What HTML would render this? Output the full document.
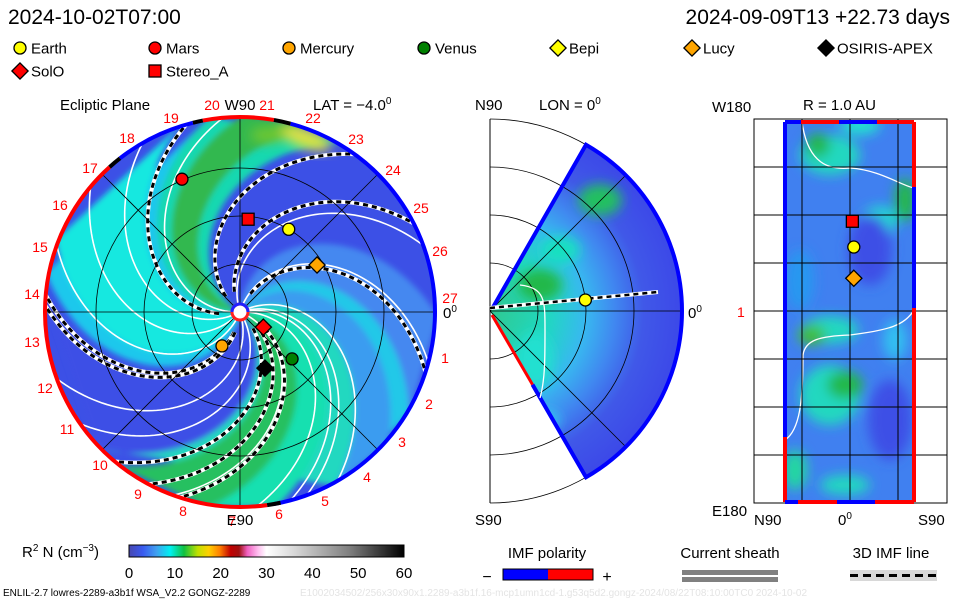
<!DOCTYPE html>
<html><head><meta charset="utf-8">
<style>
html,body{margin:0;padding:0;background:#fff;}
svg{display:block;font-family:"Liberation Sans",sans-serif;}
</style></head>
<body>
<svg id="root" width="960" height="600" viewBox="0 0 960 600" xmlns="http://www.w3.org/2000/svg">
<defs>
  <clipPath id="diskClip"><circle cx="240" cy="312" r="195"/></clipPath>
  <clipPath id="wedgeClip"><path d="M490,311 L586,145 A192,192 0 0 1 586,477 Z"/></clipPath>
  <clipPath id="rectClip"><rect x="785" y="122" width="129" height="380"/></clipPath>
  <filter id="blur6"><feGaussianBlur stdDeviation="6"/></filter>
  <filter id="blur3"><feGaussianBlur stdDeviation="3"/></filter>
  <radialGradient id="wedgeGrad" cx="490" cy="311" r="192" gradientUnits="userSpaceOnUse">
    <stop offset="0" stop-color="#30c890"/>
    <stop offset="0.3" stop-color="#20d8c0"/>
    <stop offset="0.5" stop-color="#38b8f0"/>
    <stop offset="0.65" stop-color="#4088f0"/>
    <stop offset="0.8" stop-color="#4058e8"/>
    <stop offset="1" stop-color="#3c48e8"/>
  </radialGradient>
  <linearGradient id="cbar" x1="0" x2="1" y1="0" y2="0">
    <stop offset="0" stop-color="#4848b0"/>
    <stop offset="0.05" stop-color="#3a5af0"/>
    <stop offset="0.1" stop-color="#40a0f0"/>
    <stop offset="0.15" stop-color="#00f0f0"/>
    <stop offset="0.2" stop-color="#10c040"/>
    <stop offset="0.25" stop-color="#c0e000"/>
    <stop offset="0.29" stop-color="#ffd000"/>
    <stop offset="0.33" stop-color="#ff8000"/>
    <stop offset="0.37" stop-color="#c00000"/>
    <stop offset="0.4" stop-color="#a01010"/>
    <stop offset="0.43" stop-color="#f060c0"/>
    <stop offset="0.47" stop-color="#ffc0f0"/>
    <stop offset="0.5" stop-color="#ffffff"/>
    <stop offset="0.6" stop-color="#d8d8d8"/>
    <stop offset="0.8" stop-color="#808080"/>
    <stop offset="1" stop-color="#000000"/>
  </linearGradient>
</defs>

<text x="8" y="24" font-size="21">2024-10-02T07:00</text>
<text x="950" y="24" font-size="21" text-anchor="end">2024-09-09T13 +22.73 days</text>

<g id="legend" font-size="15"></g>

<g id="ecliptic"></g>
<g id="meridian"></g>
<g id="rmap"></g>

<g>
  <text x="22" y="557" font-size="15">R<tspan font-size="10" dy="-6">2</tspan><tspan dy="6"> N (cm</tspan><tspan font-size="10" dy="-6">−3</tspan><tspan dy="6">)</tspan></text>
  <rect x="129" y="545" width="275" height="12" fill="url(#cbar)" stroke="#000" stroke-width="1"/>
  <g id="cbticks" font-size="15" text-anchor="middle"></g>
</g>

<g>
  <text x="547" y="558" font-size="15" text-anchor="middle">IMF polarity</text>
  <text x="487" y="582" font-size="16" text-anchor="middle">−</text>
  <rect x="503" y="569" width="45" height="11" fill="#0000ff"/>
  <rect x="548" y="569" width="45" height="11" fill="#ff0000"/>
  <rect x="503" y="569" width="90" height="11" fill="none" stroke="#000" stroke-width="1"/>
  <text x="607" y="582" font-size="16" text-anchor="middle">+</text>
</g>
<g>
  <text x="730" y="558" font-size="15" text-anchor="middle">Current sheath</text>
  <rect x="682" y="570" width="96" height="5" fill="#808080"/>
  <rect x="682" y="577" width="96" height="5" fill="#808080"/>
</g>
<g>
  <text x="891" y="558" font-size="15" text-anchor="middle">3D IMF line</text>
  <rect x="850" y="570" width="87" height="11" fill="#d8d8d8"/>
  <line x1="850" y1="575.5" x2="937" y2="575.5" stroke="#000" stroke-width="3" stroke-dasharray="8,5"/>
</g>
<text x="3" y="596" font-size="10">ENLIL-2.7 lowres-2289-a3b1f WSA_V2.2 GONGZ-2289</text>
<text x="300" y="596" font-size="10" fill="#e4e4e4">E1002034502/256x30x90x1.2289-a3b1f.16-mcp1umn1cd-1.g53q5d2.gongz-2024/08/22T08:10:00TC0    2024-10-02</text>

<script>
// ---------- data ----------
const legendNames = ["Earth","Mars","Mercury","Venus","Bepi","Lucy","OSIRIS-APEX","SolO","Stereo_A"];
const legendShapes = ["circle","circle","circle","circle","diamond","diamond","diamond","diamond","square"];
const legendColors = ["#ffff00","#ff0000","#ffa500","#008000","#ffff00","#ffa500","#000000","#ff0000","#ff0000"];
const eclNames = ["Earth","Mars","Mercury","Venus","Lucy","OSIRIS-APEX","SolO","Stereo_A"];
const eclR = [1.0, 1.51, 0.40, 0.73, 0.94, 0.64, 0.29, 0.97];
const eclLon = [59.5, 113.6, 242, 318, 31.4, 294, 327, 85];
const merNames = ["Earth"];
const merR = [1.0];
const merLat = [6.6];
const mapNames = ["Stereo_A","Earth","Lucy"];
const mapLat = [-4, -6, -6];
const mapLon = [85, 60.6, 31];
const cbTicks = [0,10,20,30,40,50,60];

const NS = "http://www.w3.org/2000/svg";
function el(tag, attrs, parent){const e=document.createElementNS(NS,tag);for(const k in attrs)e.setAttribute(k,attrs[k]);if(parent)parent.appendChild(e);return e;}
function supText(parent,x,y,main,sup,size){
  const t=el("text",{x:x,y:y,"font-size":size||15},parent);
  t.appendChild(document.createTextNode(main));
  const s=el("tspan",{"font-size":10,dy:-6},t); s.textContent=sup;
  return t;
}
function idx(n){return legendNames.indexOf(n);}
function marker(parent,name,x,y,s){
  const i=idx(name), sh=legendShapes[i], c=legendColors[i];
  let m;
  if(sh==="circle") m=el("circle",{cx:x,cy:y,r:s,fill:c,stroke:"#000","stroke-width":1.3},parent);
  else if(sh==="square") m=el("rect",{x:x-s,y:y-s,width:2*s,height:2*s,fill:c,stroke:"#000","stroke-width":1.3},parent);
  else m=el("polygon",{points:`${x},${y-s*1.35} ${x+s*1.35},${y} ${x},${y+s*1.35} ${x-s*1.35},${y}`,fill:c,stroke:"#000","stroke-width":1.3},parent);
  
  
  return m;
}

// ---------- legend ----------
const lg=document.getElementById("legend");
const legX=[20,155,289,424,558,692,826,20,155];
const legY=[48,48,48,48,48,48,48,71,71];
legendNames.forEach((n,i)=>{
  const g=el("g",{},lg);
  
  
  marker(g,n,legX[i],legY[i],6);
  const t=el("text",{x:legX[i]+11,y:legY[i]+5.5},g); t.textContent=n;
});

// ---------- ecliptic panel ----------
const E=document.getElementById("ecliptic");
const CX=240, CY=312, R=195, AU=96, K=0.45;
function ex(r,a){return CX+r*Math.cos(a*Math.PI/180);}
function ey(r,a){return CY-r*Math.sin(a*Math.PI/180);}
function spiralPts(rim){const a0=rim+K*R;const p=[];for(let r=6;r<=R+5;r+=3){const a=a0-K*r;p.push([ex(r,a),ey(r,a)]);}return p;}
const bg=el("g",{"clip-path":"url(#diskClip)"},E);
el("circle",{cx:CX,cy:CY,r:R,fill:"#3c50e6"},bg);
const bands=[[100,170,"#1ec8ec"],[108,160,"#18e8e0"],[60,100,"#18d8b0"],[70,90,"#30b850"],
 [175,225,"#3c50e6"],[225,300,"#20d8c0"],[232,262,"#28c060"],[262,282,"#18e0b0"],[300,330,"#20c8e8"],[330,360,"#4488f0"],[-60,-40,"#3a9cf0"]];
const bandG=el("g",{filter:"url(#blur3)"},bg);
bands.forEach(b=>{
  const p1=spiralPts(b[0]), p2=spiralPts(b[1]).reverse();
  const pts=p1.concat(p2).map(p=>p[0].toFixed(1)+","+p[1].toFixed(1)).join(" ");
  const pg=el("polygon",{points:pts,fill:b[2]},bandG);
  
  
});
const yb=el("g",{filter:"url(#blur6)"},bg);
el("ellipse",{cx:305,cy:138,rx:28,ry:10,fill:"#e0e040",transform:"rotate(20 305 138)"},yb);
el("ellipse",{cx:268,cy:135,rx:18,ry:8,fill:"#70c830"},yb);
const whiteRims=[95,120,140,160,200,215,250,275,290,20,345,-75,-60];
whiteRims.forEach(w=>{
  const p=spiralPts(w);
  const pl=el("polyline",{points:p.map(q=>q.join(",")).join(" "),fill:"none",stroke:"#fff","stroke-width":1.6},bg);
  
  
});
const dashRims=[54,27,-18,175,178,230,242,252,106];
dashRims.forEach(w=>{
  const p=spiralPts(w).filter((q,i)=>i>4);
  const s=p.map(q=>q.join(",")).join(" ");
  el("polyline",{points:s,fill:"none",stroke:"#fff","stroke-width":4},bg);
  const pl=el("polyline",{points:s,fill:"none",stroke:"#000","stroke-width":3,"stroke-dasharray":"5,4"},bg);
  
  
});
[48,96,144].forEach(r=>el("circle",{cx:CX,cy:CY,r:r,fill:"none",stroke:"#000","stroke-width":0.8},E));
[0,45,90,135].forEach(a=>el("line",{x1:ex(R,a),y1:ey(R,a),x2:ex(R,a+180),y2:ey(R,a+180),stroke:"#000","stroke-width":0.8},E));
const rimSegs=[[-80,75,"#0000ff"],[75,80,"#000"],[80,101,"#ff0000"],[101,104,"#000"],[104,128,"#0000ff"],[128,132,"#000"],[132,278,"#ff0000"],[278,282,"#000"]];
rimSegs.forEach(s=>{
  const large=(s[1]-s[0])>180?1:0;
  const pa=el("path",{d:`M${ex(R,s[0])},${ey(R,s[0])} A${R},${R} 0 ${large} 0 ${ex(R,s[1])},${ey(R,s[1])}`,fill:"none",stroke:s[2],"stroke-width":4},E);
  
  
});
el("circle",{cx:CX,cy:CY,r:8,fill:"#fff",stroke:"#ff2020","stroke-width":3},E);
el("path",{d:`M${CX-8},${CY} A8,8 0 0 1 ${CX+8},${CY}`,fill:"none",stroke:"#2020ff","stroke-width":3},E);
const dayLbl=[["20",212,110],["21",267,110],["22",313,123],["23",356,144],["24",393,175],["25",421,213],["26",440,256],["27",450,303],["1",445,363],["2",429,409],["3",402,447],["4",367,482],["5",325,506],["6",279,519],["7",232,526],["8",183,516],["9",138,499],["10",100,470],["11",67,434],["12",45,393],["13",32,347],["14",32,299],["15",40,252],["16",60,210],["17",90,173],["18",127,143],["19",171,123]];
dayLbl.forEach(d=>{const t=el("text",{x:d[1],y:d[2],fill:"#ff0000","font-size":14,"text-anchor":"middle"},E);t.textContent=d[0];
  });
[["Ecliptic Plane",60,110,"start"],["W90",240,110,"middle"],["E90",240,525,"middle"]].forEach(d=>{const t=el("text",{x:d[1],y:d[2],"font-size":15,"text-anchor":d[3]},E);t.textContent=d[0];});
supText(E,313,110,"LAT = −4.0","0");
supText(E,443,318,"0","0");
eclNames.forEach((n,i)=>marker(E,n,ex(eclR[i]*AU,eclLon[i]),ey(eclR[i]*AU,eclLon[i]),6));

// ---------- meridional panel ----------
const M=document.getElementById("meridian");
const MX=490, MY=311, MR=192;
function mx(r,a){return MX+r*Math.cos(a*Math.PI/180);}
function my(r,a){return MY-r*Math.sin(a*Math.PI/180);}
const wg=el("g",{"clip-path":"url(#wedgeClip)"},M);
el("rect",{x:480,y:130,width:220,height:360,fill:"url(#wedgeGrad)"},wg);
const blobs=el("g",{filter:"url(#blur6)"},wg);
[[540,285,22,16,"#20b848"],[600,200,22,16,"#20c060"],[535,360,18,28,"#20e0d0"],[560,250,20,14,"#18e0c0"],[540,420,20,10,"#30c8f0"]].forEach(b=>el("ellipse",{cx:b[0],cy:b[1],rx:b[2],ry:b[3],fill:b[4]},blobs));
[48,96,144,192].forEach(r=>el("path",{d:`M${MX},${MY-r} A${r},${r} 0 0 1 ${MX},${MY+r}`,fill:"none",stroke:"#000","stroke-width":0.8},M));
el("line",{x1:MX,y1:MY-192,x2:MX,y2:MY+192,stroke:"#000","stroke-width":1},M);
el("line",{x1:MX,y1:MY,x2:MX+192,y2:MY,stroke:"#000","stroke-width":0.8},M);
[45,-45].forEach(a=>el("line",{x1:MX,y1:MY,x2:mx(MR,a),y2:my(MR,a),stroke:"#000","stroke-width":0.8},M));
el("path",{d:`M${MX+2},${MY-2} L${mx(MR,60)},${my(MR,60)} A${MR},${MR} 0 0 1 ${mx(MR,-60)},${my(MR,-60)} L${mx(85,-60)},${my(85,-60)}`,fill:"none",stroke:"#0000ff","stroke-width":4},M);
el("path",{d:`M${mx(85,-60)},${my(85,-60)} L${MX+2},${MY+4}`,fill:"none",stroke:"#ff0000","stroke-width":3},M);
el("path",{d:"M520,285 C545,288 545,300 545,330 C545,360 545,380 540,398",fill:"none",stroke:"#fff","stroke-width":1.3},M);
el("polyline",{points:`${MX},${MY-3} 658,292`,fill:"none",stroke:"#fff","stroke-width":4},M);
el("polyline",{points:`${MX},${MY-3} 658,292`,fill:"none",stroke:"#000","stroke-width":2.5,"stroke-dasharray":"5,4"},M);
[["N90",475,110],["S90",475,525]].forEach(d=>{const q=el("text",{x:d[1],y:d[2],"font-size":15},M);q.textContent=d[0];});
supText(M,539,110,"LON = 0","0");
supText(M,688,318,"0","0");
merNames.forEach((n,i)=>marker(M,n,mx(merR[i]*96,merLat[i]),my(merR[i]*96,merLat[i]),6));

// ---------- R = 1 AU map ----------
const Rm=document.getElementById("rmap");
function rxp(lat){return 849.5-lat*(64.5/90);}
function ryp(lon){return 311-lon*(190/180);}
el("rect",{x:754,y:119,width:193,height:384,fill:"#fff",stroke:"#000","stroke-width":1},Rm);
const rg=el("g",{"clip-path":"url(#rectClip)"},Rm);
el("rect",{x:785,y:122,width:129,height:380,fill:"#4080f0"},rg);
const rb=el("g",{filter:"url(#blur6)"},rg);
[[830,155,30,20,"#20d8c0"],[818,145,12,12,"#20b848"],[905,200,10,22,"#20b848"],[880,220,18,14,"#20d8d0"],[870,250,22,35,"#3c50e6"],[890,420,22,40,"#3c50e6"],[830,330,28,14,"#20d8c0"],[812,335,14,10,"#40c030"],[830,395,30,30,"#20d8c0"],[845,385,18,14,"#20b848"],[795,470,12,20,"#20d8a0"],[800,280,14,30,"#2898f0"],[845,485,25,10,"#20d8c0"],[895,340,12,20,"#30c0f0"],[860,125,20,10,"#20e0d0"]].forEach(b=>el("ellipse",{cx:b[0],cy:b[1],rx:b[2],ry:b[3],fill:b[4]},rb));
el("path",{d:"M802,122 C808,165 830,170 850,168 C880,170 900,185 914,188",fill:"none",stroke:"#fff","stroke-width":1.3},rg);
el("path",{d:"M914,310 C905,325 890,330 850,335 C820,336 805,340 803,355 C803,400 800,430 785,440",fill:"none",stroke:"#fff","stroke-width":1.3},rg);
[802,850,898].forEach(x=>el("line",{x1:x,y1:119,x2:x,y2:503,stroke:"#000","stroke-width":1},Rm));
[167,215,263,311,359,407,455].forEach(y=>el("line",{x1:754,y1:y,x2:947,y2:y,stroke:"#000","stroke-width":1},Rm));
[["M785,122 L785,437","#0000ff"],["M785,437 L785,502","#ff0000"],["M785,122 L801,122","#0000ff"],["M801,122 L839,122","#ff0000"],["M839,122 L877,122","#0000ff"],["M877,122 L914,122","#ff0000"],
 ["M914,122 L914,187","#ff0000"],["M914,187 L914,308","#0000ff"],["M914,308 L914,502","#ff0000"],["M785,502 L798,502","#0000ff"],["M798,502 L837,502","#ff0000"],["M837,502 L875,502","#0000ff"],["M875,502 L914,502","#ff0000"]].forEach(s=>{
  const pa=el("path",{d:s[0],stroke:s[1],"stroke-width":4,fill:"none"},Rm);
  });
[["W180",712,112],["R = 1.0 AU",803,110],["E180",712,516],["N90",754,525],["S90",918,525]].forEach(d=>{const q=el("text",{x:d[1],y:d[2],"font-size":15},Rm);q.textContent=d[0];});
supText(Rm,838,525,"0","0");
let t1=el("text",{x:737,y:317,"font-size":14,fill:"#ff0000"},Rm);t1.textContent="1";
mapNames.forEach((n,i)=>marker(Rm,n,rxp(mapLat[i]),ryp(mapLon[i]),6));

// ---------- colorbar ticks ----------
const cbt=document.getElementById("cbticks");
cbTicks.forEach(v=>{const x=129+v/60*275;const q=el("text",{x:x,y:578},cbt);q.textContent=v;
  });
</script>
</svg>
</body></html>
